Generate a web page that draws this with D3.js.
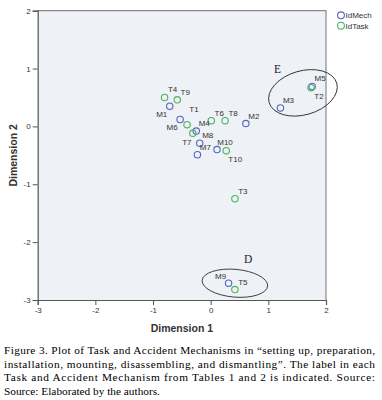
<!DOCTYPE html>
<html>
<head>
<meta charset="utf-8">
<script src="https://cdn.jsdelivr.net/npm/d3@7"></script>
<style>
  html, body { margin: 0; padding: 0; background: #fff; }
  svg { display: block; }
</style>
</head>
<body>
<svg id="chart" width="382" height="400"></svg>
<script>
// ---- data ----
const seriesNames = ["IdMech", "IdTask"];
const mechLabels = ["M1", "M2", "M3", "M4", "M5", "M6", "M7", "M8", "M9", "M10"];
const mechX = [-0.71, 0.61, 1.21, -0.25, 1.76, -0.53, -0.23, -0.19, 0.31, 0.11];
const mechY = [0.35, 0.05, 0.32, -0.08, 0.69, 0.12, -0.49, -0.29, -2.71, -0.40];
const taskLabels = ["T1", "T2", "T3", "T4", "T5", "T6", "T7", "T8", "T9", "T10"];
const taskX = [-0.41, 1.74, 0.42, -0.80, 0.42, 0.01, -0.31, 0.25, -0.58, 0.27];
const taskY = [0.03, 0.67, -1.25, 0.50, -2.82, 0.10, -0.12, 0.10, 0.46, -0.42];
const xTicks = [-3, -2, -1, 0, 1, 2];
const yTicks = [-3, -2, -1, 0, 1, 2];
const xTitle = "Dimension 1";
const yTitle = "Dimension 2";
const groupNames = ["E", "D"];
const groupCX = [1.60, 0.42];
const groupCY = [0.58, -2.71];
const groupRX = [0.61, 0.57];
const groupRY = [0.38, 0.24];
const groupTilt = [-16, 5];
const groupLabelX = [1.16, 0.65];
const groupLabelY = [1.0, -2.3];
const captionLines = [
  "Figure 3. Plot of Task and Accident Mechanisms in “setting up, preparation,",
  "installation, mounting, disassembling, and dismantling”. The label in each",
  "Task and Accident Mechanism from Tables 1 and 2 is indicated. Source:",
  "Source: Elaborated by the authors."
];

// ---- layout (pixels) ----
const labelOffset = {
  M1: [-8, 8], M6: [-8, 8], T7: [-6, 9], T1: [7, -16], T10: [9, 8],
  T2: [8, 8], M9: [-8, -7]
};
const defaultOffset = [8, -8];
const colors = ["#5466c0", "#4db45a"];

const svg = d3.select("#chart");
const x = d3.scaleLinear().domain([-3, 2]).range([37.7, 326]);
const y = d3.scaleLinear().domain([-3, 2]).range([300, 10.7]);

// plot background
svg.append("rect")
  .attr("x", x(-3)).attr("y", y(2))
  .attr("width", x(2) - x(-3)).attr("height", y(-3) - y(2))
  .attr("fill", "#eef1f5");

// frame top/right
svg.append("path")
  .attr("d", `M${x(-3)},${y(2)}H${x(2)}V${y(-3)}`)
  .attr("fill", "none").attr("stroke", "#8a8a8a").attr("stroke-width", 1.2);

const fmt = d => String(d);
const gx = svg.append("g").attr("transform", `translate(0,${y(-3)})`)
  .call(d3.axisBottom(x).tickValues(xTicks).tickFormat(fmt).tickSize(5).tickPadding(2));
const gy = svg.append("g").attr("transform", `translate(${x(-3)},0)`)
  .call(d3.axisLeft(y).tickValues(yTicks).tickFormat(fmt).tickSize(5).tickPadding(2));
[gx, gy].forEach(g => {
  g.select(".domain").attr("stroke", "#555").attr("stroke-width", 1.2);
  g.selectAll(".tick line").attr("stroke", "#555");
  g.selectAll(".tick text").attr("font-family", "Arial, 'Liberation Sans', sans-serif")
    .attr("font-size", 8).attr("fill", "#333");
});

// axis titles
svg.append("text").attr("x", (x(-3) + x(2)) / 2).attr("y", 332)
  .attr("text-anchor", "middle").attr("font-family", "Arial, 'Liberation Sans', sans-serif")
  .attr("font-weight", "bold").attr("font-size", 10.5).attr("fill", "#333").text(xTitle);
svg.append("text").attr("transform", `translate(17,${(y(2) + y(-3)) / 2}) rotate(-90)`)
  .attr("text-anchor", "middle").attr("font-family", "Arial, 'Liberation Sans', sans-serif")
  .attr("font-weight", "bold").attr("font-size", 10.5).attr("fill", "#333").text(yTitle);

// points
const series = [
  mechLabels.map((l, i) => ({ label: l, x: mechX[i], y: mechY[i], s: 0 })),
  taskLabels.map((l, i) => ({ label: l, x: taskX[i], y: taskY[i], s: 1 }))
];
const all = series[0].concat(series[1]);
svg.append("g").selectAll("circle").data(all).join("circle")
  .attr("cx", d => x(d.x)).attr("cy", d => y(d.y)).attr("r", 3.2)
  .attr("fill", "none").attr("stroke", d => colors[d.s]).attr("stroke-width", 1.1);

svg.append("g").selectAll("text").data(all).join("text")
  .attr("x", d => x(d.x) + (labelOffset[d.label] || defaultOffset)[0])
  .attr("y", d => y(d.y) + (labelOffset[d.label] || defaultOffset)[1] + 3)
  .attr("text-anchor", "middle")
  .attr("font-family", "Arial, 'Liberation Sans', sans-serif")
  .attr("font-size", 8).attr("fill", "#333").text(d => d.label);

// group ellipses
const ux = x(1) - x(0), uy = y(0) - y(1);
groupNames.forEach((n, i) => {
  svg.append("ellipse")
    .attr("transform", `translate(${x(groupCX[i])},${y(groupCY[i])}) rotate(${groupTilt[i]})`)
    .attr("rx", groupRX[i] * ux).attr("ry", groupRY[i] * uy)
    .attr("fill", "none").attr("stroke", "#333").attr("stroke-width", 0.9);
  svg.append("text").attr("x", x(groupLabelX[i])).attr("y", y(groupLabelY[i]) + 4)
    .attr("text-anchor", "middle").attr("font-family", "'Liberation Serif', 'Times New Roman', serif")
    .attr("font-size", 11.5).attr("fill", "#1a1a2a").text(n);
});

// legend
const leg = svg.append("g");
seriesNames.forEach((n, i) => {
  const ly = 15.3 + i * 10.4;
  leg.append("circle").attr("cx", 341).attr("cy", ly).attr("r", 3.4)
    .attr("fill", "none").attr("stroke", colors[i]).attr("stroke-width", 1.1);
  leg.append("text").attr("x", 345.5).attr("y", ly + 3)
    .attr("font-family", "Arial, 'Liberation Sans', sans-serif")
    .attr("font-size", 8).attr("fill", "#333").text(n);
});

// caption
captionLines.forEach((t, i) => {
  const tx = svg.append("text").attr("x", 4).attr("y", 354 + i * 13.6)
    .attr("font-family", "'Liberation Serif', 'Times New Roman', serif")
    .attr("font-size", 11.3).attr("fill", "#000").text(t);
  if (i < captionLines.length - 1) tx.attr("textLength", 371).attr("lengthAdjust", "spacing");
});
</script>
</body>
</html>
